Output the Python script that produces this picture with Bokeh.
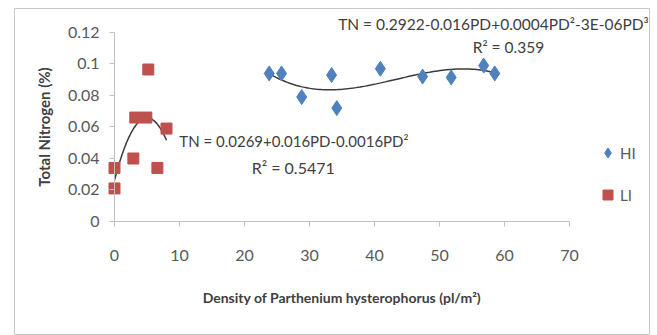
import numpy as np
from bokeh.plotting import figure
from bokeh.models import Range1d, Legend, LegendItem, Label, FixedTicker
from bokeh.embed import file_html
from bokeh.resources import INLINE

# ---- data ----
hi_density = [23.8, 25.7, 28.8, 33.4, 34.2, 40.9, 47.4, 51.8, 56.8, 58.5]
hi_tn = [0.094, 0.094, 0.079, 0.093, 0.072, 0.097, 0.092, 0.0915, 0.099, 0.094]
li_density = [0.0, 0.0, 2.9, 3.2, 4.9, 5.2, 6.6, 8.0]
li_tn = [0.034, 0.021, 0.040, 0.066, 0.066, 0.0965, 0.034, 0.059]
x_ticks = [0, 10, 20, 30, 40, 50, 60, 70]
y_ticks = [0, 0.02, 0.04, 0.06, 0.08, 0.1, 0.12]
y_tick_labels = ["0", "0.02", "0.04", "0.06", "0.08", "0.1", "0.12"]
series_names = ["HI", "LI"]
hi_equation = "TN = 0.2922-0.016PD+0.0004PD²-3E-06PD³"
hi_r2 = "R² = 0.359"
li_equation = "TN =  0.0269+0.016PD-0.0016PD²"
li_r2 = "R² = 0.5471"
x_title = "Density of Parthenium hysterophorus (pl/m²)"
y_title = "Total Nitrogen (%)"

FONT = "Lato"
BLUE = "#4F81BD"
RED = "#C0504D"
AXIS = "#BFBFBF"
TXT = "#595959"

# the frame covers the whole chart box; the axes sit at x=0 / y=0
p = figure(width=650, height=335,
           x_range=Range1d(-15.3846, 82.4615), y_range=Range1d(-0.072381, 0.135238),
           output_backend="svg", toolbar_location=None,
           min_border_left=14, min_border_right=0, min_border_top=8, min_border_bottom=0)
p.outline_line_color = "#c8c8c8"
p.outline_line_width = 1
p.xgrid.visible = False
p.ygrid.visible = False
p.background_fill_color = "white"
p.border_fill_color = "white"

# axes
p.xaxis.ticker = FixedTicker(ticks=x_ticks)
p.xaxis.bounds = (0, 70)
p.xaxis.fixed_location = 0
p.yaxis.ticker = FixedTicker(ticks=y_ticks)
p.yaxis.bounds = (0, 0.12)
p.yaxis.major_label_overrides = {t: l for t, l in zip(y_ticks, y_tick_labels)}
p.yaxis.fixed_location = 0
for ax in (p.xaxis, p.yaxis):
    ax.axis_line_color = AXIS
    ax.major_tick_line_color = AXIS
    ax.minor_tick_line_color = None
    ax.major_tick_in = 0
    ax.major_tick_out = 5
    ax.major_label_text_font = FONT
    ax.major_label_text_font_size = "16px"
    ax.major_label_text_color = TXT
    ax.axis_label_text_font = FONT
    ax.axis_label_text_font_style = "bold"
    ax.axis_label_text_color = "#404040"
p.xaxis.major_label_standoff = 24
p.yaxis.major_label_standoff = 10
p.xaxis.axis_label = x_title
p.yaxis.axis_label = y_title
p.xaxis.axis_label_text_font_size = "14px"
p.yaxis.axis_label_text_font_size = "15px"
p.xaxis.axis_label_standoff = 24
p.yaxis.axis_label_standoff = 12

# trendlines fitted to the data
hi_fit = np.polyfit(hi_density, hi_tn, 3)
li_fit = np.polyfit(li_density, li_tn, 2)
hx = np.linspace(min(hi_density), max(hi_density), 100)
lx = np.linspace(min(li_density), max(li_density), 100)
p.line(hx, np.polyval(hi_fit, hx), line_color="#3a3a3a", line_width=1.5)
p.line(lx, np.polyval(li_fit, lx), line_color="#3a3a3a", line_width=1.5)

r_hi = p.scatter(hi_density, hi_tn, marker="diamond", size=15, fill_color=BLUE, line_color=BLUE)
r_li = p.scatter(li_density, li_tn, marker="square", size=11, fill_color=RED, line_color=RED)

legend = Legend(items=[LegendItem(label=series_names[0], renderers=[r_hi]),
                       LegendItem(label=series_names[1], renderers=[r_li])],
                location=(581, 128), padding=0, margin=0, spacing=17,
                glyph_width=25, glyph_height=25, label_standoff=-3,
                label_text_font=FONT, label_text_font_size="15px", label_text_color=TXT,
                border_line_alpha=0, background_fill_alpha=0)
p.add_layout(legend)

lbl = dict(text_font=FONT, text_color="#404040", text_align="center", text_baseline="middle")
p.add_layout(Label(x=58.3, y=0.1251, text=hi_equation, text_font_size="15.5px", **lbl))
p.add_layout(Label(x=60.6, y=0.1111, text=hi_r2, text_font_size="15.5px", **lbl))
p.add_layout(Label(x=27.9, y=0.0514, text=li_equation, text_font_size="15px", **lbl))
p.add_layout(Label(x=27.5, y=0.0343, text=li_r2, text_font_size="16px", **lbl))

open("out.html", "w").write(file_html(p, INLINE))
